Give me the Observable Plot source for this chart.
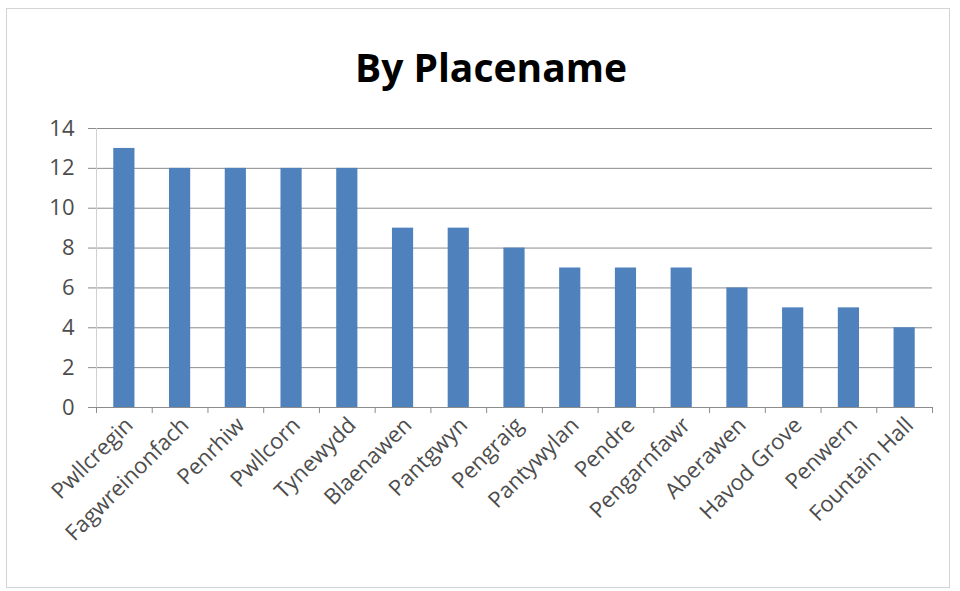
<!DOCTYPE html>
<html>
<head>
<meta charset="utf-8">
<script src="https://cdn.jsdelivr.net/npm/d3@7"></script>
<script src="https://cdn.jsdelivr.net/npm/@observablehq/plot@0.6"></script>
<style>
  html, body { margin: 0; padding: 0; background: #fff; }
  #wrap {
    position: absolute; left: 6px; top: 8px; width: 944px; height: 580px;
    border: 1px solid #d4d4d4; box-sizing: border-box; overflow: hidden;
    font-family: "Open Sans", sans-serif;
  }
  #title {
    height: 100px; line-height: 116px; text-align: center; padding-left: 26px; box-sizing: border-box;
    font-family: "Open Sans", sans-serif; font-weight: 700; font-size: 39px; color: #000;
  }
  #chart svg { display: block; }
</style>
</head>
<body>
<div id="wrap">
  <div id="title">By Placename</div>
  <div id="chart"></div>
</div>
<script>
const places = ["Pwllcregin", "Fagwreinonfach", "Penrhiw", "Pwllcorn", "Tynewydd", "Blaenawen", "Pantgwyn", "Pengraig", "Pantywylan", "Pendre", "Pengarnfawr", "Aberawen", "Havod Grove", "Penwern", "Fountain Hall"];
const counts = [13, 12, 12, 12, 12, 9, 9, 8, 7, 7, 7, 6, 5, 5, 4];
const yTicks = [0, 2, 4, 6, 8, 10, 12, 14];

const data = places.map((p, i) => ({place: p, count: counts[i]}));

const W = 942, H = 478;
const mL = 89, mR = 17, mT = 19, mB = 180;
const half = (W - mL - mR) / places.length / 2;
const grey = "#8c8c8c";
const labelColor = "#4d4d4d";

const chart = Plot.plot({
  width: W, height: H,
  marginLeft: mL, marginRight: mR, marginTop: mT, marginBottom: mB,
  style: {fontFamily: "Open Sans, sans-serif", background: "#fff"},
  x: {domain: places, paddingInner: 0.62, paddingOuter: 0.31, round: false, label: null},
  y: {domain: [0, 14], label: null},
  marks: [
    Plot.gridY(yTicks, {stroke: grey, strokeOpacity: 1, strokeWidth: 1}),
    Plot.ruleX([places[0]], {dx: -half, stroke: "#d0d0d0"}),
    Plot.barY(data, {x: "place", y: "count", fill: "#4f81bd"}),
    Plot.ruleY([0], {stroke: grey}),
    Plot.axisY(yTicks, {tickSize: 8, tickPadding: 14, stroke: grey, fill: labelColor, fontSize: 22, label: null}),
    Plot.axisX({tickSize: 6, tickFormat: () => "", dx: -half, stroke: grey, label: null}),
    Plot.axisX([places[places.length - 1]], {tickSize: 6, tickFormat: () => "", dx: half, stroke: grey, label: null}),
    Plot.axisX({tickSize: 0, tickPadding: 14, tickRotate: -45, fill: labelColor, fontSize: 22, dx: 5, label: null})
  ]
});
document.getElementById("chart").appendChild(chart);
</script>
</body>
</html>
